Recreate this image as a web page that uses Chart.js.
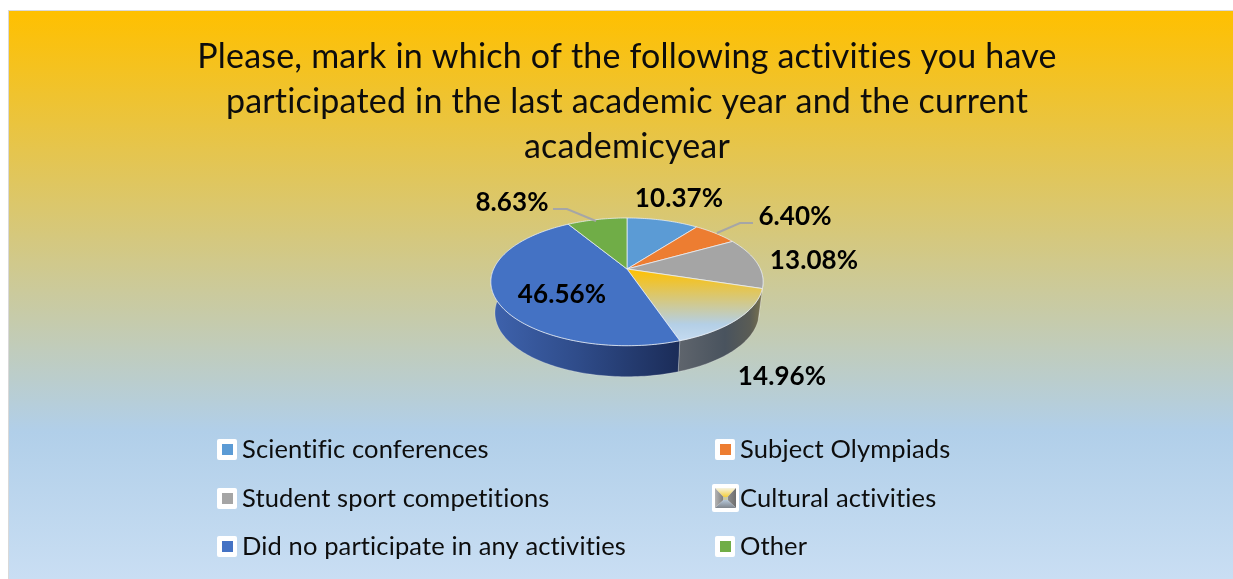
<!DOCTYPE html>
<html><head><meta charset="utf-8">
<style>html,body{margin:0;padding:0;background:#fff}canvas{display:block}</style>
<script src="https://cdn.jsdelivr.net/npm/chart.js@4/dist/chart.umd.min.js"></script>
</head><body><canvas id="c" width="1233" height="579"></canvas>
<script>
const categories = ['Scientific conferences','Subject Olympiads','Student sport competitions','Cultural activities','Did no participate in any activities','Other'];
const shares = [10.37,6.40,13.08,14.96,46.56,8.63];
const titleLines = ['Please, mark in which of the following activities you have','participated in the last academic year and the current','academicyear'];
const sliceColors = ['#5B9BD5','#ED7D31','#A5A5A5','#FFC000','#4472C4','#70AD47'];

const FONT = 'Lato, "Noto Sans", sans-serif';
const labelCenters = [[679,199],[795,217],[814,261],[782,377],[562,295],[512,203]];
const leaders = {1:[[753,223],[740,223],[717,233]],5:[[553,209],[567,209],[596,221]]};
const legendRows = [449,498,546];
const legendCols = [{box:217,text:242},{box:715,text:740}];
const bgStops = [[0,'#FFC000'],[0.74,'#B1CFE9'],[1,'#C9DEF3']];

function fillStops(g,stops){stops.forEach(s=>g.addColorStop(s[0],s[1]));return g;}
function project(arc,theta,lower){
  const r=arc.outerRadius,k=r*1.347,a=r*0.619,c=-0.201,depth=r*0.313;
  const u=Math.cos(theta),v=Math.sin(theta),d=1+c*v;
  return lower?[arc.x+0.97*k*u/d, arc.y+a*v/d+depth]:[arc.x+k*u/d, arc.y+a*v/d];
}
function rimPath(ctx,arc,from,to,lower,first){
  const n=Math.max(2,Math.ceil(Math.abs(to-from)/0.02));
  for(let i=0;i<=n;i++){
    const p=project(arc,from+(to-from)*i/n,lower);
    if(i===0&&first)ctx.moveTo(p[0],p[1]);else ctx.lineTo(p[0],p[1]);
  }
}
function wallFill(ctx,i,x0,x1){
  const g=ctx.createLinearGradient(x0,0,x1,0);
  if(i===3)return fillStops(g,[[0,'#5E646C'],[0.55,'#49535E'],[0.85,'#5A5C55'],[1,'#7A734E']]);
  if(i===4)return fillStops(g,[[0,'#3E62AC'],[0.45,'#2F4C8A'],[1,'#1B2C58']]);
  return sliceColors[i];
}
const pie3d={id:'pie3d',
  beforeDraw(chart){
    const {ctx,width,height}=chart;
    ctx.save();
    ctx.fillStyle='#FFFFFF';ctx.fillRect(0,0,width,height);
    ctx.fillStyle=fillStops(ctx.createLinearGradient(0,11,0,height),bgStops);
    ctx.fillRect(9,11,width-9,height-11);
    ctx.fillStyle='#D9D9D9';ctx.fillRect(8,10,width-8,1);ctx.fillRect(8,10,1,height-10);
    ctx.restore();
    ctx.letterSpacing='0.2px';
  },
  beforeDatasetsDraw(chart){
    const ctx=chart.ctx,arcs=chart.getDatasetMeta(0).data;
    ctx.save();
    arcs.forEach((arc,i)=>{
      const from=Math.max(arc.startAngle,0),to=Math.min(arc.endAngle,Math.PI);
      if(to<=from)return;
      const a=project(arc,to,false),b=project(arc,from,false);
      ctx.beginPath();rimPath(ctx,arc,from,to,false,true);rimPath(ctx,arc,to,from,true,false);ctx.closePath();
      ctx.fillStyle=wallFill(ctx,i,Math.min(a[0],b[0]),Math.max(a[0],b[0]));ctx.fill();
      ctx.strokeStyle='rgba(255,255,255,0.25)';ctx.lineWidth=1;ctx.stroke();
    });
    arcs.forEach((arc,i)=>{
      ctx.beginPath();ctx.moveTo(arc.x,arc.y);rimPath(ctx,arc,arc.startAngle,arc.endAngle,false,false);ctx.closePath();
      ctx.fillStyle=arc.options.backgroundColor;ctx.fill();
      ctx.strokeStyle='rgba(235,240,250,0.75)';ctx.lineWidth=1;ctx.stroke();
    });
    ctx.restore();
    return false;
  },
  afterDraw(chart){
    const ctx=chart.ctx,values=chart.data.datasets[0].data;
    ctx.save();
    ctx.strokeStyle='#A6A6A6';ctx.lineWidth=2;
    Object.values(leaders).forEach(l=>{ctx.beginPath();l.forEach((p,j)=>j?ctx.lineTo(p[0],p[1]):ctx.moveTo(p[0],p[1]));ctx.stroke();});
    ctx.letterSpacing='0.1px';
    ctx.fillStyle='#000';ctx.font='bold 26px '+FONT;ctx.textAlign='center';ctx.textBaseline='middle';
    values.forEach((v,i)=>ctx.fillText(v.toFixed(2)+'%',labelCenters[i][0],labelCenters[i][1]));
    ctx.letterSpacing='0.13px';
    ctx.font='25.5px '+FONT;ctx.textAlign='left';
    chart.data.labels.forEach((t,i)=>{
      const col=legendCols[i%2],y=legendRows[Math.floor(i/2)];
      const bx=col.box;
      ctx.fillStyle='#FFFFFF';
      if(i===3){
        ctx.beginPath();ctx.roundRect(bx-3,y-14,27,28,2);ctx.fill();
        const x0=bx,x1=bx+21,y0=y-10,y1=y+10,cx=bx+10.5,iy0=y-1,iy1=y+2,ix0=cx-2,ix1=cx+2;
        const quad=(pts,f)=>{ctx.beginPath();pts.forEach((p,j)=>j?ctx.lineTo(p[0],p[1]):ctx.moveTo(p[0],p[1]));ctx.closePath();ctx.fillStyle=f;ctx.fill();};
        quad([[x0,y0],[x1,y0],[ix1,iy0],[ix0,iy0]],fillStops(ctx.createLinearGradient(0,y0,0,iy0),[[0,'#F6F3E2'],[1,'#F5CF3A']]));
        quad([[x0,y0],[ix0,iy0],[ix0,iy1],[x0,y1]],fillStops(ctx.createLinearGradient(x0,0,ix0,0),[[0,'#B5B5B5'],[1,'#7C7C7C']]));
        quad([[x1,y0],[ix1,iy0],[ix1,iy1],[x1,y1]],fillStops(ctx.createLinearGradient(x1,0,ix1,0),[[0,'#6E6E6E'],[1,'#8E8E8E']]));
        quad([[x0,y1],[x1,y1],[ix1,iy1],[ix0,iy1]],fillStops(ctx.createLinearGradient(0,iy1,0,y1),[[0,'#B4C6D8'],[1,'#7F858C']]));
        ctx.fillStyle='#C9C9A0';ctx.fillRect(ix0,iy0,ix1-ix0,iy1-iy0);
      }else{
        ctx.beginPath();ctx.roundRect(bx,y-10,20,21,2);ctx.fill();
        ctx.fillStyle=sliceColors[i];ctx.fillRect(bx+5,y-5,11,11);
      }
      ctx.fillStyle='#0D0D0D';ctx.fillText(t,col.text,y+1);
    });
    ctx.restore();
  }
};
new Chart(document.getElementById('c'),{
  type:'pie',
  data:{labels:categories,datasets:[{data:shares,borderWidth:0,
    backgroundColor:c=>{
      if(c.dataIndex!==3)return sliceColors[c.dataIndex];
      return fillStops(c.chart.ctx.createLinearGradient(0,269,0,346),[[0,'#FFC000'],[0.72,'#B4CFE6'],[1,'#C9DEF3']]);
    }}]},
  options:{responsive:false,animation:false,
    layout:{padding:{left:21,right:0,top:0,bottom:211}},
    plugins:{legend:{display:false},tooltip:{enabled:false},
      title:{display:true,text:titleLines,color:'#0D0D0D',font:{family:FONT,size:34,weight:'normal',lineHeight:45/34},padding:{top:35,bottom:0}}}
  },
  plugins:[pie3d]
});
</script></body></html>
